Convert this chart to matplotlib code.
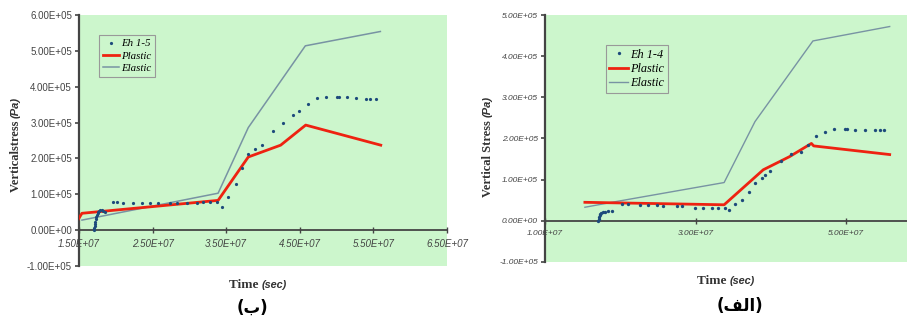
import matplotlib
matplotlib.use("Agg")
import matplotlib.pyplot as plt
import numpy as np

# ---------------- data (time in 1e7 s, stress in 1e5 Pa) ----------------
# Left chart (ب): Eh 1-5
b_eh_t = [1.708, 1.710, 1.713, 1.717, 1.722, 1.728, 1.735, 1.743, 1.752, 1.762,
          1.775, 1.790, 1.810, 1.830, 1.860,
          1.963, 2.017, 2.099, 2.235, 2.357, 2.466, 2.575, 2.738, 2.833, 2.969,
          3.105, 3.187, 3.282, 3.378,
          3.446, 3.527, 3.636, 3.718, 3.799, 3.895, 3.990, 4.139, 4.276, 4.412,
          4.493, 4.616, 4.738, 4.861, 5.010, 5.037, 5.146, 5.269, 5.405, 5.459, 5.541]
b_eh_v = [0.00, 0.06, 0.12, 0.18, 0.24, 0.30, 0.36, 0.42, 0.47, 0.51,
          0.54, 0.55, 0.55, 0.53, 0.51,
          0.79, 0.79, 0.77, 0.77, 0.77, 0.77, 0.77, 0.77, 0.77, 0.77,
          0.77, 0.79, 0.79, 0.79,
          0.65, 0.93, 1.30, 1.72, 2.12, 2.25, 2.37, 2.77, 2.98, 3.21,
          3.32, 3.52, 3.68, 3.72, 3.71, 3.71, 3.70, 3.68, 3.66, 3.66, 3.66]
b_plastic_t = [1.49, 1.54, 3.39, 3.80, 4.24, 4.58, 5.60]
b_plastic_v = [0.30, 0.47, 0.83, 2.04, 2.37, 2.93, 2.37]
b_elastic_t = [1.54, 3.39, 3.80, 4.575, 5.595]
b_elastic_v = [0.28, 1.03, 2.86, 5.14, 5.54]

# Right chart (الف): Eh 1-4
a_eh_t = [1.708, 1.712, 1.718, 1.725, 1.735, 1.750, 1.770, 1.800, 1.840, 1.890,
          2.027, 2.098, 2.262, 2.364, 2.483, 2.571, 2.749, 2.815, 2.992, 3.103,
          3.213, 3.302, 3.390, 3.448, 3.523, 3.620, 3.709, 3.789, 3.877, 3.922,
          3.988, 4.130, 4.267, 4.395, 4.488, 4.599, 4.718, 4.842, 4.984, 5.015,
          5.117, 5.250, 5.382, 5.449, 5.506]
a_eh_v = [0.00, 0.05, 0.10, 0.14, 0.17, 0.19, 0.21, 0.22, 0.23, 0.23,
          0.41, 0.41, 0.39, 0.39, 0.39, 0.36, 0.35, 0.35, 0.31, 0.31,
          0.31, 0.31, 0.31, 0.27, 0.41, 0.51, 0.70, 0.93, 1.04, 1.12,
          1.20, 1.46, 1.62, 1.68, 1.84, 2.06, 2.17, 2.22, 2.22, 2.22,
          2.21, 2.21, 2.21, 2.21, 2.21]
a_plastic_t = [1.53, 3.38, 3.90, 4.25, 4.54, 4.57, 5.58]
a_plastic_v = [0.45, 0.39, 1.24, 1.56, 1.88, 1.82, 1.61]
a_elastic_t = [1.53, 1.95, 3.38, 3.79, 4.56, 5.58]
a_elastic_v = [0.33, 0.47, 0.93, 2.41, 4.37, 4.72]

b_xticks = [1.5e7, 2.5e7, 3.5e7, 4.5e7, 5.5e7, 6.5e7]
b_yticks = [-1e5, 0, 1e5, 2e5, 3e5, 4e5, 5e5, 6e5]
a_xticks = [1e7, 3e7, 5e7]
a_yticks = [-1e5, 0, 1e5, 2e5, 3e5, 4e5, 5e5]

# ---------------- style ----------------
W, H = 907, 322
GREEN = "#ccf6cc"
RED = "#ee2211"
ELASTIC = "#7893a3"
DOTS = "#1d4a7c"
AXC = "#444444"

fig = plt.figure(figsize=(W / 100, H / 100), dpi=100)
fig.patch.set_facecolor("white")


def px_axes(l, t, r, b):
    return fig.add_axes([l / W, 1 - b / H, (r - l) / W, (b - t) / H])


def fmt(v):
    s = "%.2E" % v
    return s


def style_axes(ax, xlim, ylim, xticks, yticks, fs, italic_y):
    ax.set_facecolor(GREEN)
    ax.set_xlim(*xlim)
    ax.set_ylim(*ylim)
    for s in ("top", "right"):
        ax.spines[s].set_visible(False)
    ax.spines["left"].set_color(AXC)
    ax.spines["left"].set_linewidth(1.6)
    ax.spines["bottom"].set_position(("data", 0))
    ax.spines["bottom"].set_color(AXC)
    ax.spines["bottom"].set_linewidth(1.3)
    ax.set_xticks(xticks)
    ax.set_yticks(yticks)
    ax.set_xticklabels([fmt(v) for v in xticks], fontsize=fs, color="#444444",
                       family="Liberation Sans", style="italic")
    ax.set_yticklabels([fmt(v) for v in yticks], fontsize=fs, color="#444444",
                       family="Liberation Sans",
                       style="italic" if italic_y else "normal")
    ax.tick_params(axis="y", direction="out", length=3, width=1.2, color=AXC, pad=2)
    ax.tick_params(axis="x", direction="inout", length=5, width=1.0, color=AXC, pad=4)


# ---------------- left chart (ب) ----------------
axb = px_axes(79, 15, 447, 266)
style_axes(axb, (1.5e7, 6.5e7), (-1e5, 6e5), b_xticks, b_yticks, 7, False)
lp, = axb.plot(np.array(b_plastic_t) * 1e7, np.array(b_plastic_v) * 1e5,
               color=RED, lw=2.0, zorder=3)
le, = axb.plot(np.array(b_elastic_t) * 1e7, np.array(b_elastic_v) * 1e5,
               color=ELASTIC, lw=1.1, zorder=2)
ld, = axb.plot(np.array(b_eh_t) * 1e7, np.array(b_eh_v) * 1e5, ls="none",
               marker="o", ms=2.3, mew=0, color=DOTS, zorder=4)
leg = axb.legend([ld, lp, le], ["Eh 1-5", "Plastic", "Elastic"],
                 loc="upper left", bbox_to_anchor=(0.054, 0.92),
                 prop={"family": "Liberation Serif", "style": "italic", "size": 7.8},
                 frameon=True, fancybox=False, edgecolor="#999999",
                 facecolor=GREEN, framealpha=1, handlelength=1.5,
                 handletextpad=0.2, borderpad=0.35, labelspacing=0.25,
                 borderaxespad=0, markerscale=1.0)
leg.get_frame().set_linewidth(0.8)

# ---------------- right chart (الف) ----------------
axa = px_axes(545, 15, 907, 262)
style_axes(axa, (1e7, 5.81e7), (-1e5, 5e5), a_xticks, a_yticks, 6, True)
lp2, = axa.plot(np.array(a_plastic_t) * 1e7, np.array(a_plastic_v) * 1e5,
                color=RED, lw=2.0, zorder=3)
le2, = axa.plot(np.array(a_elastic_t) * 1e7, np.array(a_elastic_v) * 1e5,
                color=ELASTIC, lw=1.0, zorder=2)
ld2, = axa.plot(np.array(a_eh_t) * 1e7, np.array(a_eh_v) * 1e5, ls="none",
                marker="o", ms=2.4, mew=0, color=DOTS, zorder=4)
leg2 = axa.legend([ld2, lp2, le2], ["Eh 1-4", "Plastic", "Elastic"],
                  loc="upper left", bbox_to_anchor=(0.168, 0.879),
                  prop={"family": "Liberation Serif", "style": "italic", "size": 8.8},
                  frameon=True, fancybox=False, edgecolor="#999999",
                  facecolor=GREEN, framealpha=1, handlelength=1.5,
                  handletextpad=0.2, borderpad=0.3, labelspacing=0.2,
                  borderaxespad=0)
leg2.get_frame().set_linewidth(0.8)


# ---------------- axis titles ----------------
def fx(x):
    return x / W


def fy(y):
    return 1 - y / H


def xtitle(xsplit, ybase):
    fig.text(fx(xsplit), fy(ybase), "Time ", ha="right", va="baseline",
             family="Liberation Serif", weight="bold", size=9.5, color="#333333")
    fig.text(fx(xsplit), fy(ybase), "(sec)", ha="left", va="baseline",
             family="Liberation Sans", weight="bold", style="italic", size=7.8,
             color="#333333")


def ytitle(xbase, ysplit, main):
    fig.text(fx(xbase), fy(ysplit), main + " ", ha="center", va="top",
             rotation=90, family="Liberation Serif", weight="bold", size=9,
             color="#333333")
    fig.text(fx(xbase), fy(ysplit), "(Pa)", ha="center", va="bottom",
             rotation=90, family="Liberation Sans", weight="bold", style="italic",
             size=8, color="#333333")


xtitle(262, 288)
xtitle(730, 284)
ytitle(16, 118, "Verticalstress")
ytitle(488, 117, "Vertical Stress")

# captions
fig.text(fx(252), fy(308), "(\u0628)", ha="center", va="center",
         family="DejaVu Sans", weight="bold", size=12, color="black")
fig.text(fx(740), fy(306), "(\uFED2\uFEDF\uFE8D)", ha="center", va="center",
         family="DejaVu Sans", weight="bold", size=12, color="black")

fig.savefig("out.png", dpi=100)
